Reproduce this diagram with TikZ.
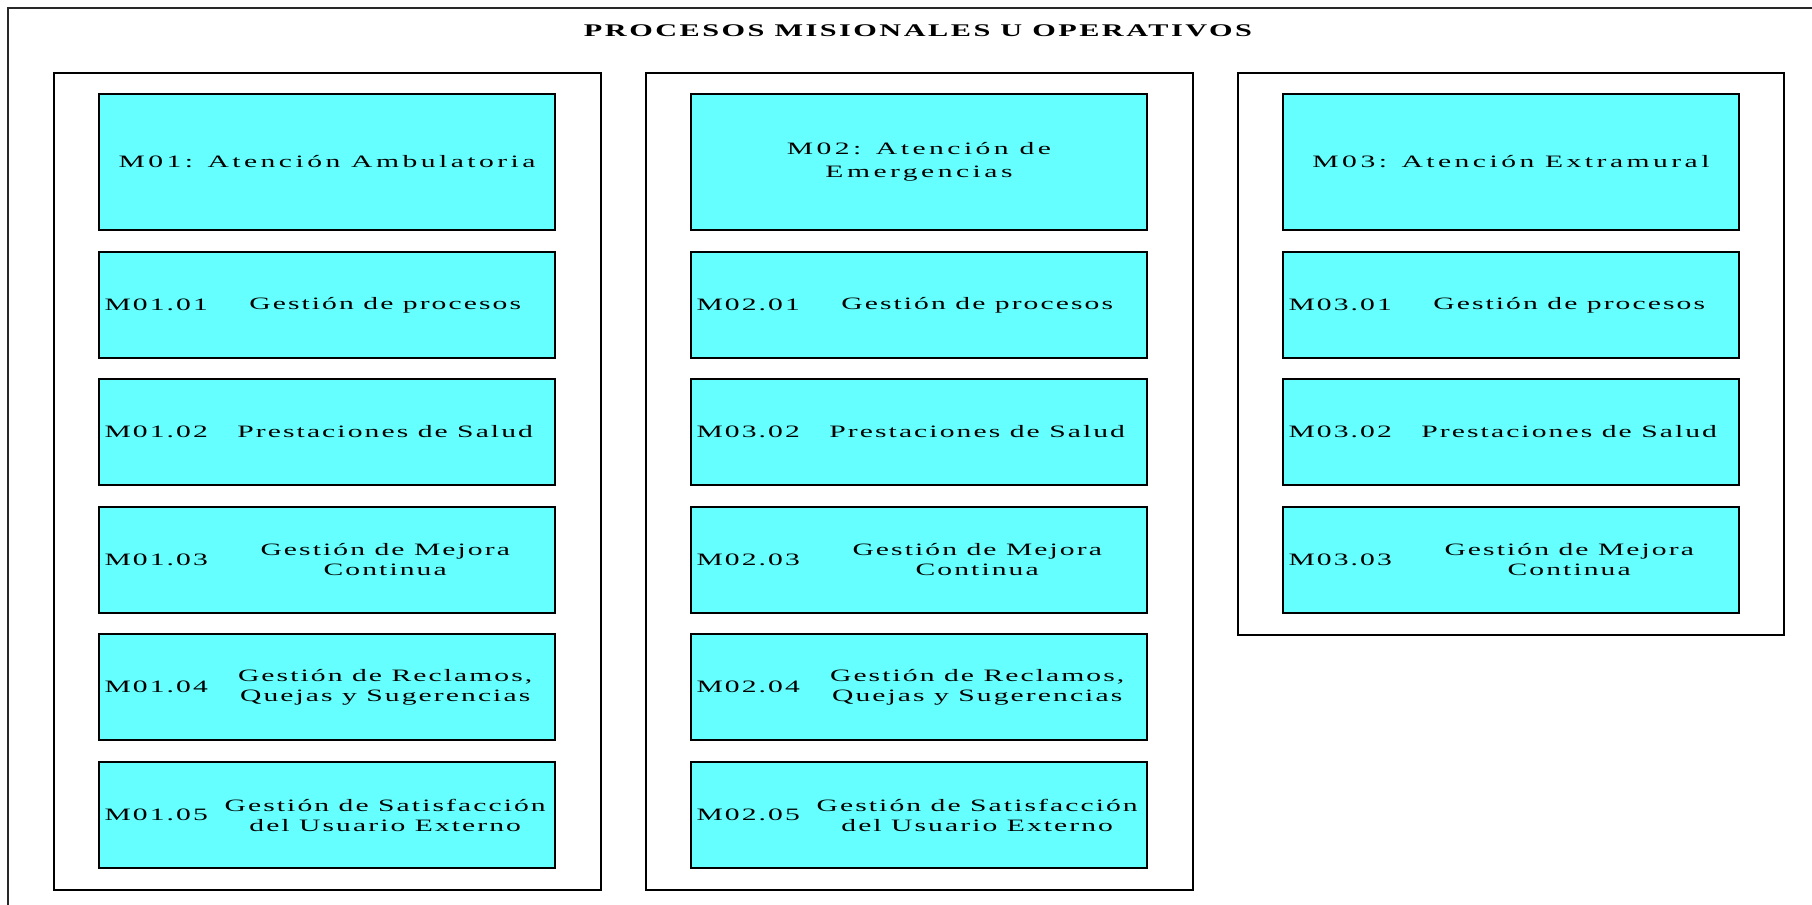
\documentclass[tikz,border=0pt]{standalone}
\usepackage{fontspec}
% wide serif for all labels
\setmainfont{Liberation Serif}[FakeStretch=1.7,LetterSpace=12]
\newfontfamily\headfont{Liberation Serif}[FakeStretch=1.7,LetterSpace=20]
\newfontfamily\titlefont{Liberation Serif}[FakeStretch=1.7,LetterSpace=14]
\definecolor{procfill}{RGB}{102,255,255}
\definecolor{framegray}{RGB}{40,40,40}

% one process row: name, centre x, centre y, code, description
\newcommand{\procrow}[5]{%
  \node[subbox] (#1) at (#2,#3) {};
  \node[idlabel] (#1-id) at ([xshift=3pt]#1.west) {#4};
  \node[desclabel] (#1-txt) at ([xshift=143.5pt]#1.west) {#5};
}

\begin{document}
\begin{tikzpicture}[x=0.5pt,y=-0.5pt,
  every node/.style={font=\fontsize{8.7pt}{10pt}\selectfont, inner sep=0pt},
  group/.style={draw=black, line width=1pt, fill=white},
  headbox/.style={draw=black, line width=0.8pt, fill=procfill,
    minimum width=228pt, minimum height=68pt, align=center,
    font=\headfont\fontsize{8.7pt}{11.5pt}\selectfont},
  subbox/.style={draw=black, line width=0.8pt, fill=procfill,
    minimum width=228pt, minimum height=53pt},
  idlabel/.style={anchor=west},
  desclabel/.style={align=center}]

\useasboundingbox (0,0) rectangle (1812,905);

% open outer frame running off the page
\draw[framegray, line width=0.7pt] (8,905) -- (8,8) -- (1812,8);

\node[font=\titlefont\fontsize{8.9pt}{11pt}\selectfont\bfseries] (title) at (918,31)
  {PROCESOS MISIONALES U OPERATIVOS};

% column frames
\draw[group] (54,73) rectangle (601,890);
\draw[group] (646,73) rectangle (1193,890);
\draw[group] (1238,73) rectangle (1784,635);

% column 1
\node[headbox] (m01) at (327,162) {M01: Atención Ambulatoria};
\procrow{m0101}{327}{305}{M01.01}{Gestión de procesos}
\procrow{m0102}{327}{432}{M01.02}{Prestaciones de Salud}
\procrow{m0103}{327}{560}{M01.03}{Gestión de Mejora\\Continua}
\procrow{m0104}{327}{687}{M01.04}{Gestión de Reclamos,\\Quejas y Sugerencias}
\procrow{m0105}{327}{815}{M01.05}{Gestión de Satisfacción\\del Usuario Externo}

% column 2
\node[headbox] (m02) at (919,162) {M02: Atención de\\Emergencias};
\procrow{m0201}{919}{305}{M02.01}{Gestión de procesos}
\procrow{m0202}{919}{432}{M03.02}{Prestaciones de Salud}
\procrow{m0203}{919}{560}{M02.03}{Gestión de Mejora\\Continua}
\procrow{m0204}{919}{687}{M02.04}{Gestión de Reclamos,\\Quejas y Sugerencias}
\procrow{m0205}{919}{815}{M02.05}{Gestión de Satisfacción\\del Usuario Externo}

% column 3
\node[headbox] (m03) at (1511,162) {M03: Atención Extramural};
\procrow{m0301}{1511}{305}{M03.01}{Gestión de procesos}
\procrow{m0302}{1511}{432}{M03.02}{Prestaciones de Salud}
\procrow{m0303}{1511}{560}{M03.03}{Gestión de Mejora\\Continua}

\end{tikzpicture}
\end{document}
